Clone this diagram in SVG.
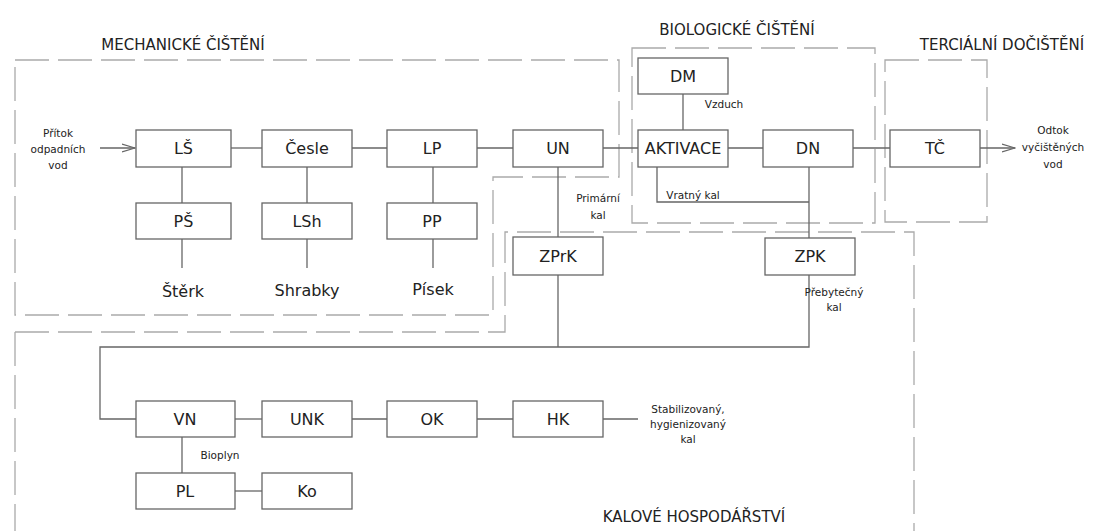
<svg xmlns="http://www.w3.org/2000/svg" width="1095" height="531" viewBox="0 0 1095 531">
<style>
.bx{fill:#fff;stroke:#666;stroke-width:1.3}
.ln{fill:none;stroke:#666;stroke-width:1.3}
.ds{fill:none;stroke:#aaa;stroke-width:1.3;stroke-dasharray:34 9}
.t{font-family:"DejaVu Sans",Verdana,sans-serif;font-size:16px;fill:#222;text-anchor:middle;dominant-baseline:central}
.s{font-family:"DejaVu Sans",Verdana,sans-serif;font-size:10.5px;fill:#222;text-anchor:middle}
.h{font-family:"DejaVu Sans",Verdana,sans-serif;font-size:15px;fill:#222;text-anchor:middle}
</style>
<defs>
<marker id="oa" markerWidth="14" markerHeight="10" refX="13" refY="5" orient="auto" markerUnits="userSpaceOnUse">
<path d="M0,1 L13,5 L0,9" fill="none" stroke="#666" stroke-width="1.2"/>
</marker>
</defs>
<rect width="1095" height="531" fill="#fff"/>
<g id="zones">
<path class="ds" d="M15,60 H619 V177 H493 V315 H15 Z"/>
<path class="ds" d="M632,48 H875 V223 H632 Z"/>
<path class="ds" d="M885,60 H987 V222 H885 Z"/>
<path class="ds" d="M15,332 H505 V232 H914 V531 M15,332 V531"/>
<text class="h" x="183" y="50">MECHANICKÉ ČIŠTĚNÍ</text>
<text class="h" x="737" y="35">BIOLOGICKÉ ČIŠTĚNÍ</text>
<text class="h" x="1002" y="50">TERCIÁLNÍ DOČIŠTĚNÍ</text>
<text class="h" x="694" y="522">KALOVÉ HOSPODÁŘSTVÍ</text>
</g>
<g id="connectors">
<line class="ln" x1="100" y1="148" x2="135" y2="148" marker-end="url(#oa)"/>
<line class="ln" x1="231" y1="148" x2="262" y2="148"/>
<line class="ln" x1="352" y1="148" x2="387" y2="148"/>
<line class="ln" x1="477" y1="148" x2="513" y2="148"/>
<line class="ln" x1="603" y1="148" x2="638" y2="148"/>
<line class="ln" x1="728" y1="148" x2="763" y2="148"/>
<line class="ln" x1="853" y1="148" x2="890" y2="148"/>
<line class="ln" x1="980" y1="148" x2="1015" y2="148" marker-end="url(#oa)"/>
<line class="ln" x1="182" y1="167" x2="182" y2="203"/>
<line class="ln" x1="182" y1="239" x2="182" y2="268"/>
<line class="ln" x1="307" y1="167" x2="307" y2="203"/>
<line class="ln" x1="307" y1="239" x2="307" y2="268"/>
<line class="ln" x1="433" y1="167" x2="433" y2="203"/>
<line class="ln" x1="433" y1="239" x2="433" y2="268"/>
<line class="ln" x1="683" y1="94" x2="683" y2="130"/>
<polyline class="ln" points="657,167 657,202 809,202"/>
<line class="ln" x1="809" y1="167" x2="809" y2="238"/>
<line class="ln" x1="558" y1="167" x2="558" y2="237"/>
<line class="ln" x1="558" y1="275" x2="558" y2="347"/>
<polyline class="ln" points="809,275 809,347 100,347 100,419 136,419"/>
<line class="ln" x1="235" y1="419" x2="262" y2="419"/>
<line class="ln" x1="352" y1="419" x2="387" y2="419"/>
<line class="ln" x1="477" y1="419" x2="513" y2="419"/>
<line class="ln" x1="603" y1="419" x2="638" y2="419"/>
<line class="ln" x1="182" y1="437" x2="182" y2="473"/>
<line class="ln" x1="235" y1="491" x2="262" y2="491"/>
</g>
<g id="labels">
<text class="s" x="58" y="137">Přítok</text>
<text class="s" x="58" y="153">odpadních</text>
<text class="s" x="58" y="169">vod</text>
<text class="s" x="1053" y="134">Odtok</text>
<text class="s" x="1053" y="151">vyčištěných</text>
<text class="s" x="1053" y="168">vod</text>
<text class="s" x="724" y="108">Vzduch</text>
<text class="s" x="693" y="199">Vratný kal</text>
<text class="s" x="598" y="202">Primární</text>
<text class="s" x="598" y="219">kal</text>
<text class="s" x="834" y="296">Přebytečný</text>
<text class="s" x="834" y="311">kal</text>
<text class="s" x="220" y="459">Bioplyn</text>
<text class="s" x="688" y="413">Stabilizovaný,</text>
<text class="s" x="688" y="428">hygienizovaný</text>
<text class="s" x="688" y="443">kal</text>
<text class="t" x="183" y="291">Štěrk</text>
<text class="t" x="307" y="290">Shrabky</text>
<text class="t" x="433" y="289">Písek</text>
</g>
<g id="LS"><rect class="bx" x="136" y="130" width="95" height="37"/><text class="t" x="183.5" y="148.5">LŠ</text></g>
<g id="Cesle"><rect class="bx" x="262" y="130" width="90" height="37"/><text class="t" x="307" y="148.5">Česle</text></g>
<g id="LP"><rect class="bx" x="387" y="130" width="90" height="37"/><text class="t" x="432" y="148.5">LP</text></g>
<g id="UN"><rect class="bx" x="513" y="130" width="90" height="37"/><text class="t" x="558" y="148.5">UN</text></g>
<g id="AKTIVACE"><rect class="bx" x="638" y="130" width="90" height="37"/><text class="t" x="683" y="148.5">AKTIVACE</text></g>
<g id="DM"><rect class="bx" x="638" y="58" width="90" height="36"/><text class="t" x="683" y="76">DM</text></g>
<g id="DN"><rect class="bx" x="763" y="130" width="90" height="37"/><text class="t" x="808" y="148.5">DN</text></g>
<g id="TC"><rect class="bx" x="890" y="130" width="90" height="37"/><text class="t" x="935" y="148.5">TČ</text></g>
<g id="PS"><rect class="bx" x="136" y="203" width="95" height="36"/><text class="t" x="183.5" y="221">PŠ</text></g>
<g id="LSh"><rect class="bx" x="262" y="203" width="90" height="36"/><text class="t" x="307" y="221">LSh</text></g>
<g id="PP"><rect class="bx" x="387" y="203" width="90" height="36"/><text class="t" x="432" y="221">PP</text></g>
<g id="ZPrK"><rect class="bx" x="513" y="237" width="90" height="38"/><text class="t" x="558" y="256">ZPrK</text></g>
<g id="ZPK"><rect class="bx" x="765" y="238" width="90" height="37"/><text class="t" x="810" y="256.5">ZPK</text></g>
<g id="VN"><rect class="bx" x="136" y="401" width="99" height="36"/><text class="t" x="185" y="419">VN</text></g>
<g id="UNK"><rect class="bx" x="262" y="401" width="90" height="36"/><text class="t" x="307" y="419">UNK</text></g>
<g id="OK"><rect class="bx" x="387" y="401" width="90" height="36"/><text class="t" x="432" y="419">OK</text></g>
<g id="HK"><rect class="bx" x="513" y="401" width="90" height="36"/><text class="t" x="558" y="419">HK</text></g>
<g id="PL"><rect class="bx" x="136" y="473" width="99" height="36"/><text class="t" x="185" y="491">PL</text></g>
<g id="Ko"><rect class="bx" x="262" y="473" width="90" height="36"/><text class="t" x="307" y="491">Ko</text></g>
</svg>
